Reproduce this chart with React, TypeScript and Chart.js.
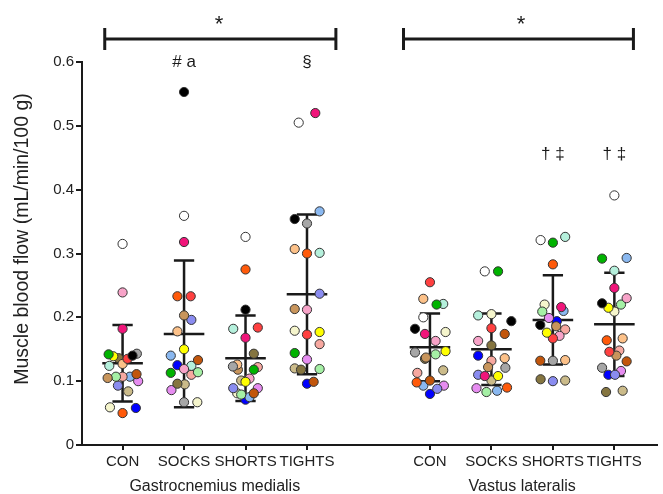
import React, { useEffect, useRef } from "react";
import { Chart, registerables } from "chart.js";
Chart.register(...registerables);

const FONT = "'Liberation Sans', Arial, Helvetica, sans-serif";

const conditions = ["CON", "SOCKS", "SHORTS", "TIGHTS"];
const muscles = ["Gastrocnemius medialis", "Vastus lateralis"];
const positions = [0, 1, 2, 3, 5, 6, 7, 8];
const yTicks = [0, 0.1, 0.2, 0.3, 0.4, 0.5, 0.6];
const yTitle = "Muscle blood flow (mL/min/100 g)";

// 22 subjects, one colour each
const subjectColors = [
  "#ffffff", "#000000", "#a6a6a6", "#00b300", "#ffff00", "#ff4040", "#f0157a", "#f7a3c8",
  "#ff5a0a", "#c2560c", "#fcc189", "#c8955c", "#857540", "#cbbb8a", "#b5f0dc", "#a5f0a5",
  "#f7a8a0", "#8ab8f0", "#8a8cf0", "#e68cf0", "#0000ff", "#f5f5cc",
];

// values per subject (same subject order as colours)
const gmCon = [0.315, 0.14, 0.143, 0.142, 0.139, 0.135, 0.182, 0.239, 0.05, 0.111, 0.127, 0.105, 0.136, 0.084, 0.124, 0.107, 0.107, 0.107, 0.093, 0.1, 0.058, 0.059];
const gmSocks = [0.359, 0.553, 0.067, 0.113, 0.15, 0.233, 0.318, 0.119, 0.233, 0.133, 0.178, 0.203, 0.096, 0.095, 0.124, 0.114, 0.11, 0.14, 0.196, 0.086, 0.125, 0.067];
const gmShorts = [0.326, 0.212, 0.123, 0.118, 0.099, 0.184, 0.168, 0.104, 0.275, 0.081, 0.126, 0.118, 0.143, 0.101, 0.182, 0.079, 0.122, 0.075, 0.089, 0.089, 0.071, 0.081];
const gmTights = [0.505, 0.354, 0.347, 0.144, 0.177, 0.173, 0.52, 0.212, 0.3, 0.099, 0.307, 0.213, 0.118, 0.12, 0.301, 0.119, 0.158, 0.366, 0.237, 0.134, 0.096, 0.179];
const vlCon = [0.2, 0.182, 0.145, 0.22, 0.147, 0.255, 0.174, 0.163, 0.098, 0.101, 0.229, 0.137, 0.135, 0.117, 0.221, 0.142, 0.113, 0.093, 0.088, 0.093, 0.08, 0.177];
const vlSocks = [0.272, 0.194, 0.121, 0.272, 0.108, 0.183, 0.108, 0.163, 0.09, 0.174, 0.136, 0.122, 0.156, 0.101, 0.203, 0.083, 0.132, 0.085, 0.11, 0.089, 0.14, 0.205];
const vlShorts = [0.321, 0.188, 0.132, 0.317, 0.176, 0.167, 0.216, 0.171, 0.283, 0.132, 0.133, 0.186, 0.103, 0.101, 0.326, 0.209, 0.181, 0.21, 0.1, 0.199, 0.194, 0.22];
const vlTights = [0.391, 0.222, 0.121, 0.292, 0.215, 0.146, 0.246, 0.23, 0.164, 0.131, 0.167, 0.14, 0.083, 0.085, 0.273, 0.22, 0.148, 0.293, 0.11, 0.116, 0.11, 0.209];

// horizontal scatter of each dot, in dot-column units
const gmConJitter = [0, 1.5, 2.15, -2.1, -1.4, 0.75, 0, 0, 0, 2.1, 0, -2.25, -0.6, 0.85, -2, -1, 0, 1.1, -0.7, 2.35, 2, -1.9];
const gmSocksJitter = [0, 0, 0, -2, 0, 1, 0, 0, -1, 2.1, -1, 0, -1, 0.1, 1.1, 2.1, 1.1, -2, 1.1, -1.9, -1, 2];
const gmShortsJitter = [0, 0, -1.9, 1.25, 0, 1.85, 0, 0.6, 0, 1.25, -1.25, -1.15, 1.25, -0.65, -1.85, -0.65, 1.85, 0.6, -1.85, 1.85, 0, -1.25];
const gmTightsJitter = [-1.25, -1.85, 0, -1.85, 1.9, 0, 1.25, 0, 0, 1, -1.85, -1.85, -0.9, -1.85, 1.9, 1.9, 1.9, 1.9, 1.9, 0, 0, -1.85];
const vlConJitter = [-1, -2.25, -2.25, 1, 2.35, 0, -0.75, 0.85, -2, 0, -1, -0.6, -0.75, 2, 2, 0.85, -1.9, -1, 1.1, 2.1, 0, 2.35];
const vlSocksJitter = [-1, 3, 2.1, 1, 1, 0, -1, -2, 2.35, 2, 2, -0.5, 0, 0, -2, -0.75, 0, 0.85, -2, -2.25, -2, 0];
const vlShortsJitter = [-1.85, -1.9, 0, 0, -0.9, 0, 1.25, 1, 0, -1.9, 1.85, 0.5, -1.85, 1.85, 1.85, -1.6, 1.85, 1.6, 0, -0.6, 0.6, -1.25];
const vlTightsJitter = [0, -1.85, -1.85, -1.85, -0.9, -0.75, 0, 1.85, -1.15, 1.85, 1.25, 0.3, -1.25, 1.25, 0, 1, 0.75, 1.85, 0.1, 1, -0.9, 0];

const groupMeans = [0.128, 0.174, 0.136, 0.236, 0.153, 0.15, 0.196, 0.189];
const groupSDs = [0.06, 0.115, 0.067, 0.125, 0.053, 0.056, 0.07, 0.081];

const groupMarks = ["", "# a", "", "§", "", "", "† ‡", "† ‡"];
const markLevels = [0, 0.6, 0, 0.6, 0, 0, 0.455, 0.455];

const groupValues = [gmCon, gmSocks, gmShorts, gmTights, vlCon, vlSocks, vlShorts, vlTights];
const groupJitter = [gmConJitter, gmSocksJitter, gmShortsJitter, gmTightsJitter, vlConJitter, vlSocksJitter, vlShortsJitter, vlTightsJitter];

const SLOT = 0.108;

const errorBarPlugin = {
  id: "errorBars",
  beforeDatasetsDraw(chart: any) {
    const { ctx, scales } = chart;
    const x = scales.x;
    const y = scales.y;
    ctx.save();
    ctx.strokeStyle = "#1a1a1a";
    ctx.lineWidth = 2.5;
    positions.forEach((p, i) => {
      const cx = x.getPixelForValue(p);
      const m = y.getPixelForValue(groupMeans[i]);
      const t = y.getPixelForValue(groupMeans[i] + groupSDs[i]);
      const b = y.getPixelForValue(groupMeans[i] - groupSDs[i]);
      const mh = x.getPixelForValue(p + 0.33) - cx;
      const ch = x.getPixelForValue(p + 0.165) - cx;
      ctx.beginPath();
      ctx.moveTo(cx, t);
      ctx.lineTo(cx, b);
      ctx.moveTo(cx - ch, t);
      ctx.lineTo(cx + ch, t);
      ctx.moveTo(cx - ch, b);
      ctx.lineTo(cx + ch, b);
      ctx.moveTo(cx - mh, m);
      ctx.lineTo(cx + mh, m);
      ctx.stroke();
    });
    ctx.restore();
  },
};

const brackets = [
  { from: -0.29, to: 3.47, star: 1.57 },
  { from: 4.57, to: 8.31, star: 6.48 },
];

const annotationPlugin = {
  id: "annotations",
  afterDraw(chart: any) {
    const { ctx, scales } = chart;
    const x = scales.x;
    const y = scales.y;
    ctx.save();
    ctx.fillStyle = "#1a1a1a";
    ctx.strokeStyle = "#1a1a1a";
    // significance brackets
    const ly = 39;
    brackets.forEach((br) => {
      const x1 = x.getPixelForValue(br.from);
      const x2 = x.getPixelForValue(br.to);
      ctx.lineWidth = 3;
      ctx.beginPath();
      ctx.moveTo(x1, ly);
      ctx.lineTo(x2, ly);
      ctx.moveTo(x1, ly - 11);
      ctx.lineTo(x1, ly + 11);
      ctx.moveTo(x2, ly - 11);
      ctx.lineTo(x2, ly + 11);
      ctx.stroke();
      ctx.font = `22px ${FONT}`;
      ctx.textAlign = "center";
      ctx.textBaseline = "middle";
      ctx.fillText("*", x.getPixelForValue(br.star), 25);
    });
    // per-group marks
    ctx.font = `17px ${FONT}`;
    ctx.textAlign = "center";
    ctx.textBaseline = "middle";
    positions.forEach((p, i) => {
      if (!groupMarks[i]) return;
      ctx.fillText(groupMarks[i], x.getPixelForValue(p), y.getPixelForValue(markLevels[i]));
    });
    // muscle labels
    ctx.font = `16px ${FONT}`;
    ctx.fillStyle = "#222";
    const gy = x.top + 42;
    ctx.fillText(muscles[0], x.getPixelForValue((positions[0] + positions[3]) / 2), gy);
    ctx.fillText(muscles[1], x.getPixelForValue((positions[4] + positions[7]) / 2), gy);
    // y-axis title
    ctx.save();
    ctx.translate(23, 239);
    ctx.rotate(-Math.PI / 2);
    ctx.font = `19.5px ${FONT}`;
    ctx.fillText(yTitle, 0, 0);
    ctx.restore();
    ctx.restore();
  },
};

export default function App() {
  const ref = useRef<HTMLCanvasElement>(null);
  useEffect(() => {
    const datasets = subjectColors.map((color, s) => ({
      label: `S${s + 1}`,
      data: positions.map((p, gi) => ({ x: p + groupJitter[gi][s] * SLOT, y: groupValues[gi][s] })),
      backgroundColor: color,
      borderColor: "#333333",
      borderWidth: 1,
      pointRadius: 4.6,
      pointHoverRadius: 4.6,
      showLine: false,
    }));
    const chart = new Chart(ref.current as HTMLCanvasElement, {
      type: "scatter",
      data: { datasets },
      options: {
        animation: false,
        responsive: false,
        devicePixelRatio: 1,
        layout: { padding: { top: 62, right: 3, left: 0, bottom: 0 } },
        plugins: { legend: { display: false }, tooltip: { enabled: false } },
        scales: {
          x: {
            type: "linear",
            min: -0.66,
            max: 8.7,
            afterFit: (s: any) => {
              s.height = 49;
            },
            afterBuildTicks: (s: any) => {
              s.ticks = positions.map((v) => ({ value: v }));
            },
            ticks: {
              autoSkip: false,
              maxRotation: 0,
              padding: 3,
              color: "#222",
              font: { family: FONT, size: 15 },
              callback: (v: any) => {
                const i = positions.indexOf(Number(v));
                return i >= 0 ? conditions[i % 4] : "";
              },
            },
            grid: { drawOnChartArea: false, drawTicks: true, tickLength: 5, color: "#1a1a1a", lineWidth: 2 },
            border: { display: true, color: "#1a1a1a", width: 2 },
          },
          y: {
            min: 0,
            max: 0.6,
            afterFit: (s: any) => {
              s.width = 82;
            },
            afterBuildTicks: (s: any) => {
              s.ticks = yTicks.map((v) => ({ value: v }));
            },
            ticks: {
              padding: 2,
              color: "#222",
              font: { family: FONT, size: 15 },
              callback: (v: any) => (Number(v) === 0 ? "0" : Number(v).toFixed(1)),
            },
            grid: { drawOnChartArea: false, drawTicks: true, tickLength: 6, color: "#1a1a1a", lineWidth: 2 },
            border: { display: true, color: "#1a1a1a", width: 2 },
          },
        },
      },
      plugins: [errorBarPlugin, annotationPlugin],
    } as any);
    return () => chart.destroy();
  }, []);
  return (
    <div style={{ position: "fixed", left: 0, top: 0, width: 663, height: 494, background: "#fff" }}>
      <canvas ref={ref} width={663} height={494} style={{ width: 663, height: 494, display: "block" }} />
    </div>
  );
}
